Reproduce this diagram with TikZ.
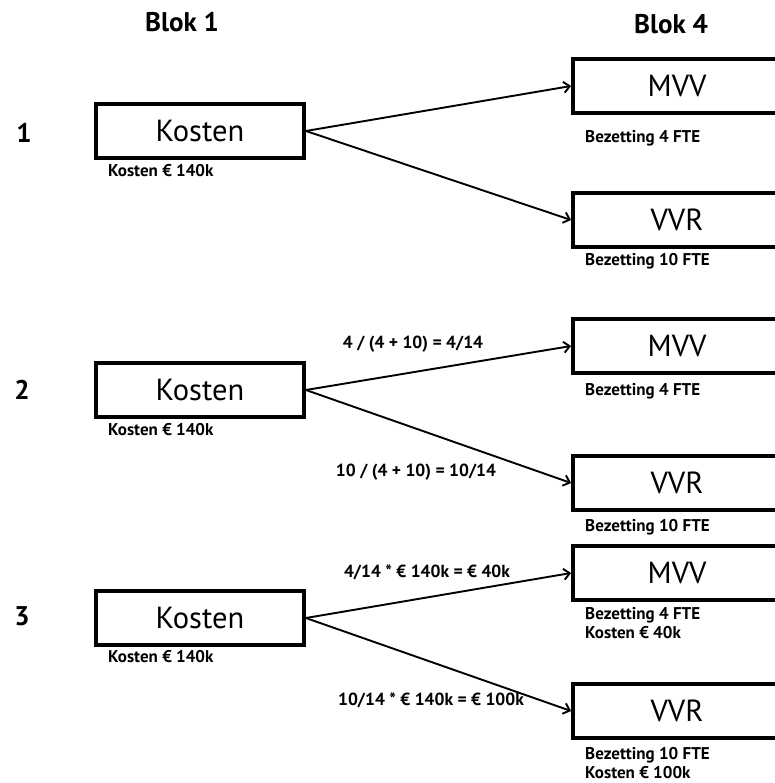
\documentclass[tikz,border=0pt]{standalone}
\usepackage{fontspec}
\setmainfont{PT Sans}
\usetikzlibrary{arrows.meta, positioning}

\begin{document}
\begin{tikzpicture}[
    x=1pt, y=-1pt,
    box/.style={rectangle, draw, line width=3.8pt, minimum width=208pt,
                minimum height=54pt, inner sep=0pt, font=\fontsize{30.5}{33}\selectfont},
    note/.style={anchor=west, inner sep=0pt, align=left,
                 font=\fontsize{17}{19}\selectfont\bfseries},
    calc/.style={inner sep=0pt, font=\fontsize{17.5}{20}\selectfont\bfseries},
    head/.style={inner sep=0pt, font=\fontsize{27}{30}\selectfont\bfseries},
    arr/.style={-{Straight Barb[length=6pt, width=11pt]}, line width=1.9pt},
]
    \useasboundingbox (0,0) rectangle (774,783);

    % koppen en rijnummers
    \node[head] (blok1) at (182,22) {Blok 1};
    \node[head] (blok4) at (671,24) {Blok 4};
    \node[head] (nr1) at (24,133) {1};
    \node[head] (nr2) at (22,390) {2};
    \node[head] (nr3) at (22,616) {3};

    % rij 1
    \node[box] (kost1) at (200,131) {Kosten};
    \node[box] (mvv1)  at (677,86)  {MVV};
    \node[box] (vvr1)  at (677,220) {VVR};
    \node[note] (nkost1) at (108,171) {Kosten € 140k};
    \node[note] (nmvv1)  at (585,138) {Bezetting 4 FTE};
    \node[note] (nvvr1)  at (585,261) {Bezetting 10 FTE};
    \draw[arr] (kost1.east) -- (mvv1.west);
    \draw[arr] (kost1.east) -- (vvr1.west);

    % rij 2
    \node[box] (kost2) at (200,390) {Kosten};
    \node[box] (mvv2)  at (677,346) {MVV};
    \node[box] (vvr2)  at (677,483) {VVR};
    \node[note] (nkost2) at (108,430) {Kosten € 140k};
    \node[note] (nmvv2)  at (585,391) {Bezetting 4 FTE};
    \node[note] (nvvr2)  at (585,527) {Bezetting 10 FTE};
    \node[calc] (deel1) at (413,344) {4 / (4 + 10) = 4/14};
    \node[calc] (deel2) at (416,472) {10 / (4 + 10) = 10/14};
    \draw[arr] (kost2.east) -- (mvv2.west);
    \draw[arr] (kost2.east) -- (vvr2.west);

    % rij 3
    \node[box] (kost3) at (200,618) {Kosten};
    \node[box] (mvv3)  at (677,573) {MVV};
    \node[box] (vvr3)  at (677,711) {VVR};
    \node[note] (nkost3) at (108,657) {Kosten € 140k};
    \node[note, anchor=north west] (nmvv3) at (585,607) {Bezetting 4 FTE\\Kosten € 40k};
    \node[note, anchor=north west] (nvvr3) at (585,747) {Bezetting 10 FTE\\Kosten € 100k};
    \node[calc] (verd1) at (427,572) {4/14 * € 140k = € 40k};
    \node[calc] (verd2) at (431,700) {10/14 * € 140k = € 100k};
    \draw[arr] (kost3.east) -- (mvv3.west);
    \draw[arr] (kost3.east) -- (vvr3.west);
\end{tikzpicture}
\end{document}
